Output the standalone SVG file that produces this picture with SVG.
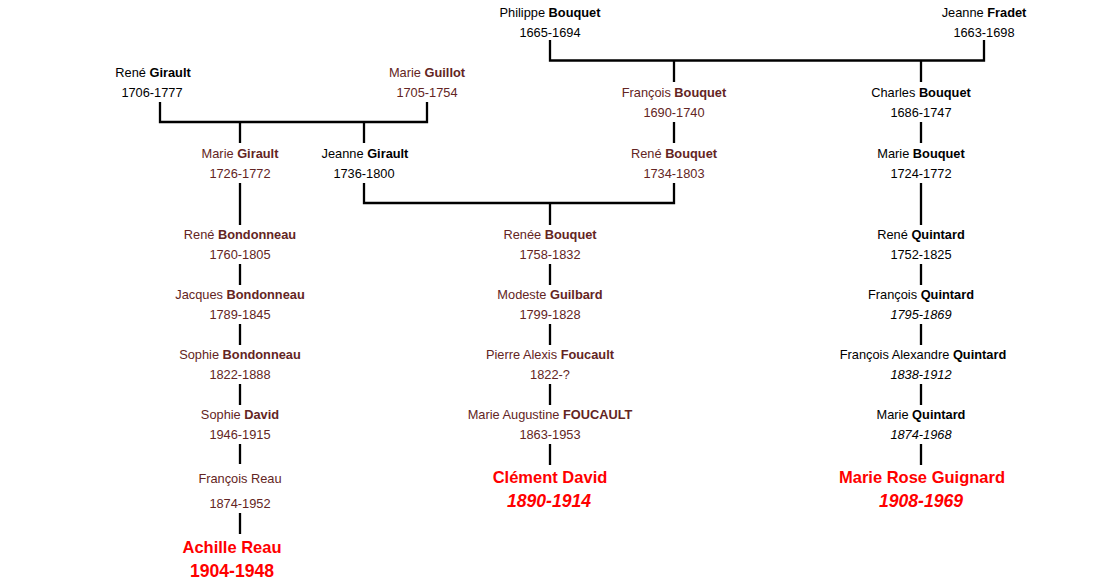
<svg xmlns="http://www.w3.org/2000/svg" width="1109" height="584" viewBox="0 0 1109 584">
<style>
text{font-family:"Liberation Sans",Arial,sans-serif;font-size:12.8px;text-anchor:middle}
.k{fill:#000}
.b{fill:#632523}
.w{font-weight:bold}
.i{font-style:italic}
.r{fill:#ff0000;font-weight:bold;font-size:16.5px}
.d{font-size:17.6px}
.ln{fill:none;stroke:#000;stroke-width:2.3}
</style>
<rect width="1109" height="584" fill="#fff"/>
<g id="connectors" class="ln">
<path d="M550,40V60.5H984V40"/>
<path d="M674,60.5V82M921,60.5V82"/>
<path d="M160,102V122H427V102"/>
<path d="M240,122V143M364,122V143"/>
<path d="M674,122V143M921,122V143"/>
<path d="M364,183V203H674V183"/>
<path d="M550,203V225"/>
<path d="M240,183V225M921,183V225"/>
<path d="M240,264V285M240,324V345M240,384V405M240,444V464M240,513V534"/>
<path d="M550,264V285M550,324V345M550,384V405M550,444V465"/>
<path d="M921,264V285M921,324V345M921,384V405M921,444V465"/>
</g>
<g id="philippe-bouquet" class="k"><text x="550" y="16.5">Philippe <tspan class="w">Bouquet</tspan></text><text x="550" y="36.5">1665-1694</text></g>
<g id="jeanne-fradet" class="k"><text x="984" y="16.5">Jeanne <tspan class="w">Fradet</tspan></text><text x="984" y="36.5">1663-1698</text></g>
<g id="rene-girault" class="k"><text x="153" y="76.5">René <tspan class="w">Girault</tspan></text><text x="152" y="96.5">1706-1777</text></g>
<g id="marie-guillot" class="b"><text x="427" y="76.5">Marie <tspan class="w">Guillot</tspan></text><text x="427" y="96.5">1705-1754</text></g>
<g id="francois-bouquet" class="b"><text x="674" y="96.5">François <tspan class="w">Bouquet</tspan></text><text x="674" y="116.5">1690-1740</text></g>
<g id="charles-bouquet" class="k"><text x="921" y="96.5">Charles <tspan class="w">Bouquet</tspan></text><text x="921" y="116.5">1686-1747</text></g>
<g id="marie-girault" class="b"><text x="240" y="157.5">Marie <tspan class="w">Girault</tspan></text><text x="240" y="177.5">1726-1772</text></g>
<g id="jeanne-girault" class="k"><text x="365" y="157.5">Jeanne <tspan class="w">Girault</tspan></text><text x="364" y="177.5">1736-1800</text></g>
<g id="rene-bouquet" class="b"><text x="674" y="157.5">René <tspan class="w">Bouquet</tspan></text><text x="674" y="177.5">1734-1803</text></g>
<g id="marie-bouquet" class="k"><text x="921" y="157.5">Marie <tspan class="w">Bouquet</tspan></text><text x="921" y="177.5">1724-1772</text></g>
<g id="rene-bondonneau" class="b"><text x="240" y="238.5">René <tspan class="w">Bondonneau</tspan></text><text x="240" y="258.5">1760-1805</text></g>
<g id="jacques-bondonneau" class="b"><text x="240" y="298.5">Jacques <tspan class="w">Bondonneau</tspan></text><text x="240" y="318.5">1789-1845</text></g>
<g id="sophie-bondonneau" class="b"><text x="240" y="358.5">Sophie <tspan class="w">Bondonneau</tspan></text><text x="240" y="378.5">1822-1888</text></g>
<g id="sophie-david" class="b"><text x="240" y="418.5">Sophie <tspan class="w">David</tspan></text><text x="240" y="438.5">1946-1915</text></g>
<g id="francois-reau" class="b"><text x="240" y="483">François Reau</text><text x="240" y="508">1874-1952</text></g>
<g id="achille-reau"><text class="r" x="232" y="553">Achille Reau</text><text class="r d" x="232" y="577">1904-1948</text></g>
<g id="renee-bouquet" class="b"><text x="550" y="238.5">Renée <tspan class="w">Bouquet</tspan></text><text x="550" y="258.5">1758-1832</text></g>
<g id="modeste-guilbard" class="b"><text x="550" y="298.5">Modeste <tspan class="w">Guilbard</tspan></text><text x="550" y="318.5">1799-1828</text></g>
<g id="pierre-alexis-foucault" class="b"><text x="550" y="358.5">Pierre Alexis <tspan class="w">Foucault</tspan></text><text x="550" y="378.5">1822-?</text></g>
<g id="marie-augustine-foucault" class="b"><text x="550" y="418.5">Marie Augustine <tspan class="w">FOUCAULT</tspan></text><text x="550" y="438.5">1863-1953</text></g>
<g id="clement-david"><text class="r" x="550" y="483">Clément David</text><text class="r i d" x="549" y="507">1890-1914</text></g>
<g id="rene-quintard" class="k"><text x="921" y="238.5">René <tspan class="w">Quintard</tspan></text><text x="921" y="258.5">1752-1825</text></g>
<g id="francois-quintard" class="k"><text x="921" y="298.5">François <tspan class="w">Quintard</tspan></text><text class="i" x="921" y="318.5">1795-1869</text></g>
<g id="francois-alexandre-quintard" class="k"><text x="923" y="358.5">François Alexandre <tspan class="w">Quintard</tspan></text><text class="i" x="921" y="378.5">1838-1912</text></g>
<g id="marie-quintard" class="k"><text x="921" y="418.5">Marie <tspan class="w">Quintard</tspan></text><text class="i" x="921" y="438.5">1874-1968</text></g>
<g id="marie-rose-guignard"><text class="r" x="922" y="483">Marie Rose Guignard</text><text class="r i d" x="921" y="507">1908-1969</text></g>
</svg>
